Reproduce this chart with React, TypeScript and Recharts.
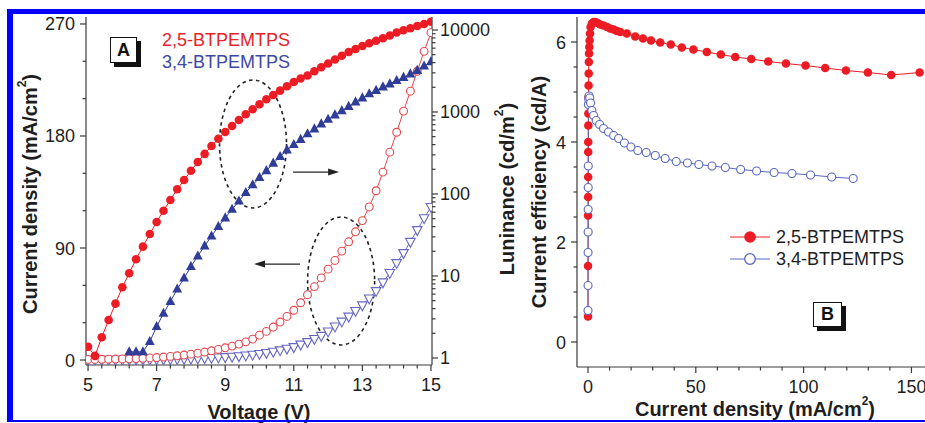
import { LineChart, Line, XAxis, YAxis, ReferenceDot, Legend } from 'recharts';

const FONT = '"Liberation Sans", Arial, Helvetica, sans-serif';
const AXIS = '#3a3a3a';
const TXT = '#1e1e1e';
const RED = '#ed1c24';
const RED_OPEN = '#e5474d';
const BLUE = '#2f3d98';
const BLUE_OPEN = '#6567c2';
const BLUE_B = '#5866bd';

const compounds = ['2,5-BTPEMTPS', '3,4-BTPEMTPS'];

// ---- panel A: current density / luminance vs voltage
const volts = [
  5, 5.2, 5.4, 5.6, 5.8, 6, 6.2, 6.4, 6.6, 6.8, 7, 7.2, 7.4, 7.6, 7.8, 8, 8.2,
  8.4, 8.6, 8.8, 9, 9.2, 9.4, 9.6, 9.8, 10, 10.2, 10.4, 10.6, 10.8, 11, 11.2,
  11.4, 11.6, 11.8, 12, 12.2, 12.4, 12.6, 12.8, 13, 13.2, 13.4, 13.6, 13.8, 14,
  14.2, 14.4, 14.6, 14.8, 15,
];
// luminance (cd/m2), filled symbols, right log axis
const lum25 = [
  1.37, 1.06, 1.79, 2.9, 4.6, 7.3, 10.8, 16, 22.8, 32.5, 45.6,
  62.5, 84.5, 114, 148, 192, 245, 308, 385, 472, 570,
  675, 798, 938, 1080, 1240, 1430, 1610, 1820, 2060, 2320,
  2560, 2790, 3135, 3510, 3900, 4365, 4860, 5390, 5865, 6380,
  6885, 7385, 7920, 8570, 9330, 9910, 10490, 11190, 11840, 12620,
];
const lum34 = [
  null, null, null, null, null, null, 1.19, 1.19, 1.19, 1.58, 2.41,
  3.5, 4.86, 6.9, 9.4, 13, 17.5, 23.2, 30.7, 40, 51,
  65, 82, 104, 129, 158, 192, 237, 285, 344, 400,
  462, 540, 621, 714, 811, 919, 1035, 1167, 1324, 1482,
  1660, 1830, 2018, 2195, 2420, 2634, 2905, 3205, 3635, 4100,
];
// current density (mA/cm2), open symbols, left axis
const jv25 = [
  0.5, 0.5, 0.6, 0.7, 0.8, 0.9, 1.0, 1.2, 1.4, 1.7, 2.0,
  2.4, 2.9, 3.4, 4.0, 4.7, 5.5, 6.4, 7.4, 8.5, 9.8,
  11.2, 12.8, 14.6, 16.8, 20, 23, 26.5, 30.5, 35, 40,
  46, 52.5, 59, 66, 73, 80, 87.5, 95, 103, 112,
  123, 136, 151, 167, 183, 200, 216, 232, 248, 263,
];
const jv34 = [
  0.2, 0.2, 0.2, 0.3, 0.3, 0.3, 0.4, 0.4, 0.5, 0.5, 0.6,
  0.7, 0.8, 0.9, 1.0, 1.2, 1.4, 1.6, 1.8, 2.1, 2.4,
  2.8, 3.2, 3.7, 4.3, 5.0, 5.8, 6.8, 7.9, 9.2, 10.5,
  12.5, 14.5, 17, 19.5, 23, 27, 31, 35, 39.5, 44,
  49.5, 55.5, 62.5, 70, 78, 86, 95, 104.5, 114, 123,
];

const voltTicks = [5, 7, 9, 11, 13, 15];
const voltMinor = [
  5.4, 5.8, 6.2, 6.6, 7.4, 7.8, 8.2, 8.6, 9.4, 9.8, 10.2, 10.6, 11.4, 11.8,
  12.2, 12.6, 13.4, 13.8, 14.2, 14.6,
];
const jTicks = [0, 90, 180, 270];
const jMinor = [30, 60, 120, 150, 210, 240];
const lumTicks = [1, 10, 100, 1000, 10000];
const lumMinor = [1, 10, 100, 1000].flatMap((d) => [2, 3, 4, 5, 6, 7, 8, 9].map((k) => k * d));

// dashed ellipses and arrows (voltage, current density)
const ellipses = [
  { v: 9.81, j: 173.6 },
  { v: 12.38, j: 63.5 },
];
const arrows = [
  { v: 10.98, j: 151, dir: 1 },
  { v: 11.18, j: 77.1, dir: -1 },
];

// ---- panel B: current efficiency vs current density
const ceJ25 = [
  0.01, 0.02, 0.04, 0.06, 0.08, 0.1, 0.12, 0.15, 0.18, 0.22, 0.27, 0.33, 0.4,
  0.5, 0.62, 0.76, 0.95, 1.2, 1.8, 2.6, 3.4, 4.4, 5.7, 7.2, 8.8, 10.3, 11.9,
  13.4, 15.0, 18.0, 21.9, 25.5, 29.2, 33.5, 38.4, 43.5, 48.9, 55.1, 61.6, 68.3,
  75.7, 83.6, 91.8, 100.9, 110, 119.6, 129.8, 140.6, 153.8,
];
const ce25 = [
  0.51, 1.52, 2.53, 2.9, 3.3, 3.8, 4.0, 4.33, 4.57, 4.9, 5.13, 5.37, 5.6,
  5.77, 5.9, 6.03, 6.17, 6.3, 6.37, 6.4, 6.4, 6.38, 6.35, 6.33, 6.3, 6.27, 6.25,
  6.22, 6.2, 6.17, 6.11, 6.07, 6.03, 5.99, 5.95, 5.89, 5.85, 5.8, 5.75, 5.7,
  5.66, 5.61, 5.57, 5.53, 5.48, 5.43, 5.39, 5.34, 5.39,
];
const ceJ34 = [
  0.01, 0.02, 0.04, 0.06, 0.08, 0.1, 0.13, 0.2, 0.35, 0.5, 0.8, 1.2, 1.8, 2.6,
  3.8, 5.4, 7.2, 9.5, 11.9, 14.2, 16.9, 19.9, 23.1, 27, 31.2, 35.8, 40.9, 46.1,
  51.4, 57.5, 63.7, 70.8, 78.2, 86.3, 94.6, 103.2, 113, 123,
];
const ce34 = [
  0.63, 1.13, 1.79, 2.2, 2.65, 3.09, 3.52, 4.75, 4.85, 4.92, 4.88, 4.78, 4.63,
  4.53, 4.43, 4.35, 4.27, 4.2, 4.13, 4.07, 3.98, 3.9, 3.83, 3.79, 3.73, 3.67,
  3.61, 3.58, 3.55, 3.52, 3.49, 3.45, 3.42, 3.39, 3.37, 3.34, 3.3, 3.27,
];

const jdTicks = [0, 50, 100, 150];
const jdMinor = [10, 20, 30, 40, 60, 70, 80, 90, 110, 120, 130, 140];
const ceTicks = [0, 2, 4, 6];
const ceMinor = [0.5, 1, 1.5, 2.5, 3, 3.5, 4.5, 5, 5.5];

const rowsA = volts.map((v, i) => ({
  v,
  lum25: lum25[i],
  lum34: lum34[i],
  jv25: jv25[i],
  jv34: jv34[i],
}));
const rowsB25 = ceJ25.map((j, i) => ({ j, ce: ce25[i] }));
const rowsB34 = ceJ34.map((j, i) => ({ j, ce: ce34[i] }));

const sorted = (a: number[], b: number[]) => [...a, ...b].sort((x, y) => x - y);

// tick line + label drawn by hand so minor ticks can be shorter
const axisTick = (side: 'bottom' | 'left' | 'right', majors: number[]) => (props: any) => {
  const { x, y, payload, index } = props;
  const v = payload.value as number;
  const major = majors.includes(v);
  const len = major ? 6 : 3.5;
  const txt = { fontSize: 18, fill: TXT, fontFamily: FONT };
  if (side === 'bottom') {
    return (
      <g key={index}>
        <line x1={x} y1={y} x2={x} y2={y + len} stroke={AXIS} strokeWidth={1.2} />
        {major && (
          <text x={x} y={y + 26} textAnchor="middle" {...txt}>
            {v}
          </text>
        )}
      </g>
    );
  }
  if (side === 'left') {
    return (
      <g key={index}>
        <line x1={x} y1={y} x2={x - len} y2={y} stroke={AXIS} strokeWidth={1.2} />
        {major && (
          <text x={x - 11} y={y + 6.5} textAnchor="end" {...txt}>
            {v}
          </text>
        )}
      </g>
    );
  }
  return (
    <g key={index}>
      <line x1={x} y1={y} x2={x + len} y2={y} stroke={AXIS} strokeWidth={1.2} />
      {major && (
        <text x={x + 8} y={y + 6.5} textAnchor="start" {...txt}>
          {v}
        </text>
      )}
    </g>
  );
};

type Kind = 'disc' | 'ring' | 'tri' | 'triOpen';
const marker = (kind: Kind, color: string, r: number) => (p: any) => {
  const { cx, cy, index, value } = p;
  if (cx == null || cy == null || value == null) return <g key={index} />;
  if (kind === 'disc') return <circle key={index} cx={cx} cy={cy} r={r} fill={color} />;
  if (kind === 'ring')
    return <circle key={index} cx={cx} cy={cy} r={r} fill="#fff" stroke={color} strokeWidth={1.1} />;
  if (kind === 'tri')
    return (
      <polygon
        key={index}
        points={`${cx},${cy - r * 1.15} ${cx - r},${cy + r * 0.7} ${cx + r},${cy + r * 0.7}`}
        fill={color}
      />
    );
  return (
    <polygon
      key={index}
      points={`${cx - r},${cy - r * 0.7} ${cx + r},${cy - r * 0.7} ${cx},${cy + r * 1.15}`}
      fill="#fff"
      stroke={color}
      strokeWidth={1.1}
    />
  );
};

const Title = ({ x, y, rot, children }: any) => (
  <text
    x={x}
    y={y}
    transform={rot ? `rotate(-90 ${x} ${y})` : undefined}
    textAnchor="middle"
    dominantBaseline="central"
    fontSize={20}
    fontWeight="bold"
    fill={TXT}
    fontFamily={FONT}
  >
    {children}
  </text>
);

const Sup = ({ t, after }: { t: string; after: string }) => (
  <>
    <tspan dy={-8} fontSize={12}>
      {t}
    </tspan>
    <tspan dy={8}>{after}</tspan>
  </>
);

const LetterBox = ({ left, top, w, h, letter }: any) => (
  <div
    style={{
      position: 'absolute',
      left,
      top,
      width: w,
      height: h,
      boxSizing: 'border-box',
      border: '1.5px solid #111',
      background: '#fff',
      boxShadow: '4px 4px 0 #111',
      font: `bold 18px ${FONT}`,
      color: '#111',
      display: 'flex',
      alignItems: 'center',
      justifyContent: 'center',
    }}
  >
    {letter}
  </div>
);

const PanelA = () => (
  <LineChart width={520} height={423} data={rowsA} margin={{ top: 17, right: 0, bottom: 0, left: 0 }}>
    <XAxis
      xAxisId="v"
      type="number"
      dataKey="v"
      domain={[4.94, 15.03]}
      allowDataOverflow
      ticks={sorted(voltTicks, voltMinor)}
      interval={0}
      tickSize={0}
      tickMargin={0}
      tickLine={false}
      tick={axisTick('bottom', voltTicks)}
      axisLine={{ stroke: AXIS, strokeWidth: 1.2 }}
      height={58}
      label={() => <Title x={259} y={412}>Voltage (V)</Title>}
    />
    <XAxis
      xAxisId="top"
      orientation="top"
      type="number"
      dataKey="v"
      domain={[4.94, 15.03]}
      allowDataOverflow
      height={0}
      tick={false}
      tickLine={false}
      axisLine={{ stroke: '#8a8a8a', strokeWidth: 1.2 }}
    />
    <YAxis
      yAxisId="j"
      orientation="left"
      type="number"
      domain={[-4, 275.6]}
      allowDataOverflow
      ticks={sorted(jTicks, jMinor)}
      interval={0}
      tickSize={0}
      tickMargin={0}
      tickLine={false}
      tick={axisTick('left', jTicks)}
      axisLine={{ stroke: AXIS, strokeWidth: 1.2 }}
      width={86}
      label={() => (
        <Title x={30} y={194} rot>
          Current density (mA/cm<Sup t="2" after=")" />
        </Title>
      )}
    />
    <YAxis
      yAxisId="lum"
      orientation="right"
      type="number"
      scale="log"
      domain={[0.821, 14400]}
      allowDataOverflow
      ticks={sorted(lumTicks, lumMinor)}
      interval={0}
      tickSize={0}
      tickMargin={0}
      tickLine={false}
      tick={axisTick('right', lumTicks)}
      axisLine={{ stroke: AXIS, strokeWidth: 1.2 }}
      width={88}
      label={() => (
        <Title x={507} y={189} rot>
          Luninance (cd/m<Sup t="2" after=")" />
        </Title>
      )}
    />
    <Line xAxisId="v" yAxisId="j" dataKey="jv34" stroke={BLUE_OPEN} strokeWidth={1} dot={marker('triOpen', BLUE_OPEN, 4.8)} activeDot={false} isAnimationActive={false} />
    <Line xAxisId="v" yAxisId="j" dataKey="jv25" stroke={RED_OPEN} strokeWidth={1} dot={marker('ring', RED_OPEN, 3.9)} activeDot={false} isAnimationActive={false} />
    <Line xAxisId="v" yAxisId="lum" dataKey="lum34" stroke={BLUE} strokeWidth={1} dot={marker('tri', BLUE, 4.9)} activeDot={false} isAnimationActive={false} />
    <Line xAxisId="v" yAxisId="lum" dataKey="lum25" stroke={RED} strokeWidth={1} dot={marker('disc', RED, 4.3)} activeDot={false} isAnimationActive={false} />
    {ellipses.map((e, i) => (
      <ReferenceDot
        key={`e${i}`}
        xAxisId="v"
        yAxisId="j"
        x={e.v}
        y={e.j}
        r={0}
        shape={(p: any) => (
          <ellipse cx={p.cx} cy={p.cy} rx={33.5} ry={64} fill="none" stroke="#222" strokeWidth={1.6} strokeDasharray="3.5 3.5" />
        )}
      />
    ))}
    {arrows.map((a, i) => (
      <ReferenceDot
        key={`a${i}`}
        xAxisId="v"
        yAxisId="j"
        x={a.v}
        y={a.j}
        r={0}
        shape={(p: any) => {
          const x2 = p.cx + a.dir * 46;
          return (
            <g>
              <line x1={p.cx} y1={p.cy} x2={x2 - a.dir * 8} y2={p.cy} stroke="#222" strokeWidth={1.3} />
              <polygon points={`${x2},${p.cy} ${x2 - a.dir * 11},${p.cy - 3.5} ${x2 - a.dir * 11},${p.cy + 3.5}`} fill="#222" />
            </g>
          );
        }}
      />
    ))}
    <Legend
      layout="vertical"
      verticalAlign="middle"
      align="center"
      wrapperStyle={{ left: 162, top: 29, width: 170 }}
      content={() => (
        <div style={{ fontFamily: FONT, fontSize: 18, lineHeight: '22px' }}>
          {compounds.map((c, i) => (
            <div key={c} style={{ color: i === 0 ? '#e8232b' : '#3d49a3' }}>
              {c}
            </div>
          ))}
        </div>
      )}
    />
  </LineChart>
);

const PanelB = () => (
  <LineChart width={520} height={423} margin={{ top: 17, right: 107, bottom: 0, left: 0 }}>
    <XAxis
      type="number"
      dataKey="j"
      domain={[-5.1, 160]}
      allowDataOverflow
      ticks={sorted(jdTicks, jdMinor)}
      interval={0}
      tickSize={0}
      tickMargin={0}
      tickLine={false}
      tick={axisTick('bottom', jdTicks)}
      axisLine={{ stroke: AXIS, strokeWidth: 1.2 }}
      height={56}
      label={() => (
        <Title x={235} y={409}>
          Current density (mA/cm<Sup t="2" after=")" />
        </Title>
      )}
    />
    <XAxis
      xAxisId="top"
      orientation="top"
      type="number"
      dataKey="j"
      domain={[-5.1, 160]}
      allowDataOverflow
      height={0}
      tick={false}
      tickLine={false}
      axisLine={{ stroke: '#8a8a8a', strokeWidth: 1.2 }}
    />
    <YAxis
      type="number"
      domain={[-0.5, 6.5]}
      allowDataOverflow
      ticks={sorted(ceTicks, ceMinor)}
      interval={0}
      tickSize={0}
      tickMargin={0}
      tickLine={false}
      tick={axisTick('left', ceTicks)}
      axisLine={{ stroke: AXIS, strokeWidth: 1.2 }}
      width={57}
      label={() => (
        <Title x={19} y={192} rot>
          Current efficiency (cd/A)
        </Title>
      )}
    />
    <Line data={rowsB25} dataKey="ce" name={compounds[0]} stroke={RED} strokeWidth={1} dot={marker('disc', RED, 4.3)} activeDot={false} isAnimationActive={false} />
    <Line data={rowsB34} dataKey="ce" name={compounds[1]} stroke={BLUE_B} strokeWidth={1} dot={marker('ring', BLUE_B, 4)} activeDot={false} isAnimationActive={false} />
    <Legend
      layout="vertical"
      verticalAlign="middle"
      align="center"
      wrapperStyle={{ left: 205, top: 226, width: 220, height: 46 }}
      content={() => (
        <svg width={220} height={46}>
          {compounds.map((c, i) => {
            const y = 11 + i * 22;
            const col = i === 0 ? RED : BLUE_B;
            return (
              <g key={c}>
                <line x1={5} x2={45} y1={y} y2={y} stroke={col} strokeWidth={1} />
                {i === 0 ? (
                  <circle cx={25} cy={y} r={5.8} fill={RED} />
                ) : (
                  <circle cx={25} cy={y} r={5.3} fill="#fff" stroke={BLUE_B} strokeWidth={1.3} />
                )}
                <text x={51} y={y} dominantBaseline="central" fontSize={18} fill={TXT} fontFamily={FONT}>
                  {c}
                </text>
              </g>
            );
          })}
        </svg>
      )}
    />
  </LineChart>
);

export default function App() {
  return (
    <div
      style={{
        position: 'absolute',
        left: 0,
        top: 0,
        width: 925,
        height: 423,
        overflow: 'hidden',
        background: '#fff',
        fontFamily: FONT,
      }}
    >
      <div style={{ position: 'absolute', left: 0, top: 0 }}>
        <PanelA />
      </div>
      <div style={{ position: 'absolute', left: 520, top: 0 }}>
        <PanelB />
      </div>
      <LetterBox left={110} top={37} w={27} h={26} letter="A" />
      <LetterBox left={813} top={302} w={29} h={25} letter="B" />
      <div
        style={{
          position: 'absolute',
          left: 7,
          top: 9,
          width: 1000,
          height: 406,
          borderTop: '5px solid #0000fe',
          borderLeft: '6px solid #0000fe',
          borderBottom: '2px solid #0000fe',
          pointerEvents: 'none',
        }}
      />
    </div>
  );
}
